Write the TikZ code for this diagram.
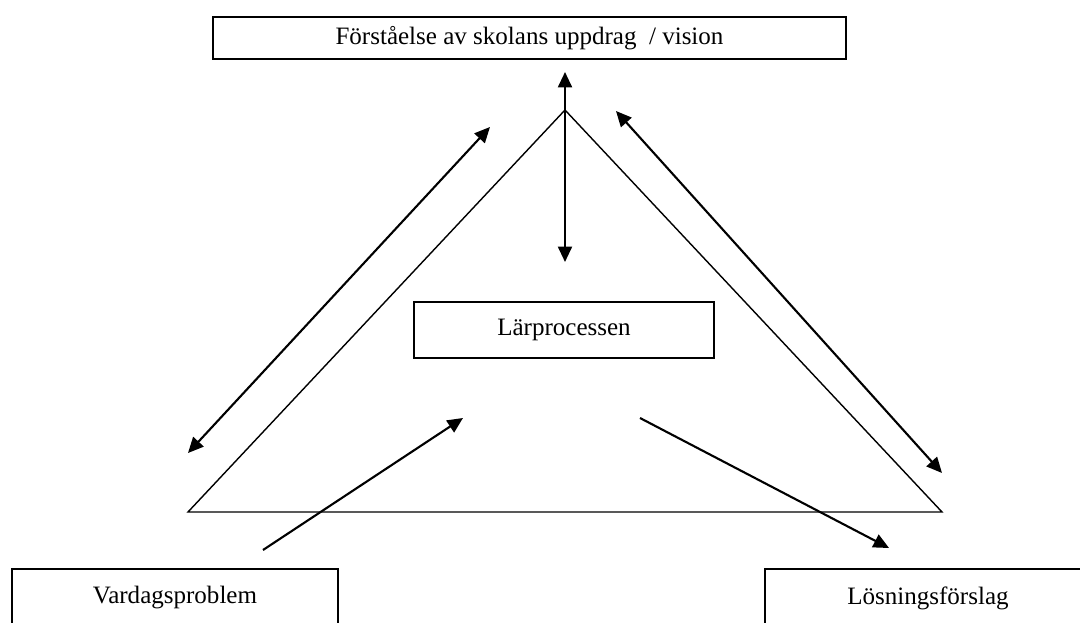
\documentclass[tikz,border=0pt]{standalone}
\usepackage{fontspec}
\setmainfont{Liberation Serif}
\usetikzlibrary{arrows.meta}
\tikzset{
  box/.style={draw=black, line width=1.2pt, rectangle, inner sep=0pt, font=\fontsize{17.8pt}{20pt}\selectfont},
  arr/.style={line width=1.5pt, -{Triangle[length=11pt,width=10pt]}},
  darr/.style={line width=1.5pt, {Triangle[length=11pt,width=10pt]}-{Triangle[length=11pt,width=10pt]}},
  tri/.style={line width=1pt, line join=miter}
}
\begin{document}
\begin{tikzpicture}[x=0.025cm,y=-0.025cm]
\useasboundingbox (0,0) rectangle (1080,623);
\clip (0,0) rectangle (1080,623);
\node[box, minimum width=15.825cm, minimum height=1.05cm] (top) at (529.5,38) {Förståelse av skolans uppdrag ~/ vision};
\node[box, line width=0.8pt, minimum width=7.5cm, minimum height=1.4cm] (mid) at (564,330) {Lärprocessen};
\node[box, minimum width=8.15cm, minimum height=1.45cm] (left) at (175,598) {Vardagsproblem};
\node[box, minimum width=8.15cm, minimum height=1.45cm] (right) at (928,598) {Lösningsförslag};
\coordinate (apex) at (565,110);
\coordinate (bl) at (188,512);
\coordinate (br) at (942,512);
\draw[tri] (apex) -- (bl) -- (br) -- cycle;
\coordinate (v1) at (565,72);
\coordinate (v2) at (565,262);
\coordinate (l1) at (188,453);
\coordinate (l2) at (490,127);
\coordinate (r1) at (616,111);
\coordinate (r2) at (942,473);
\coordinate (a1) at (263,550);
\coordinate (a2) at (463,418);
\coordinate (b1) at (640,418);
\coordinate (b2) at (889,548);
\draw[darr] (v1) -- (v2);
\draw[darr] (l1) -- (l2);
\draw[darr] (r1) -- (r2);
\draw[arr] (a1) -- (a2);
\draw[arr] (b1) -- (b2);
\end{tikzpicture}
\end{document}
